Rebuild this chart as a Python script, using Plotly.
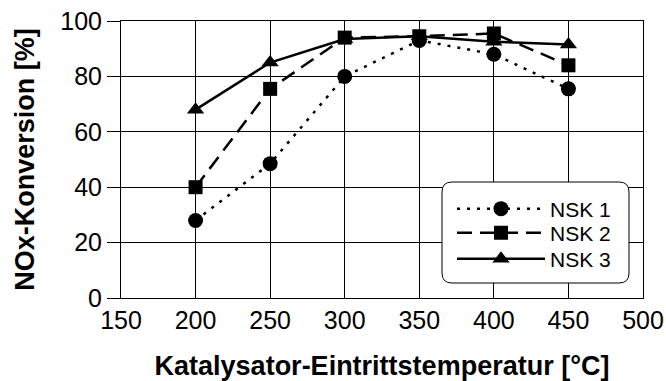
import plotly.graph_objects as go

temps = [200, 250, 300, 350, 400, 450]
nsk1 = [28, 48.5, 80, 93, 88, 75.5]
nsk2 = [40, 75.5, 94, 94.5, 95.5, 84]
nsk3 = [68, 85, 93.5, 94.5, 92.5, 91.5]
names = ["NSK 1", "NSK 2", "NSK 3"]
x_ticks = [150, 200, 250, 300, 350, 400, 450, 500]
y_ticks = [0, 20, 40, 60, 80, 100]

W, H = 666, 381
ml, mr, mt, mb = 121, 23, 21, 83
FONT = "Liberation Sans, Arial, sans-serif"

pw = W - ml - mr
ph = H - mt - mb
def px(x): return (x - ml) / pw
def py(y): return (H - mb - y) / ph

fig = go.Figure()
styles = [
    dict(dash="3px,7px", symbol="circle", size=15),
    dict(dash="15px,8px", symbol="square", size=14),
    dict(dash="solid", symbol="triangle-up", size=15),
]
legend_ids = ["legend", "legend2", "legend3"]
legend_rows = [209, 233, 259]
for name, ys, st, lid in zip(names, [nsk1, nsk2, nsk3], styles, legend_ids):
    fig.add_trace(go.Scatter(
        x=temps, y=ys, name=name, mode="lines+markers",
        line=dict(color="black", width=2.5, dash=st["dash"]),
        marker=dict(symbol=st["symbol"], size=st["size"], color="black"),
        cliponaxis=False, legend=lid,
    ))

# rounded legend box
x0, x1, y0, y1, r = 442, 629, 182, 283, 10
path = (f"M {px(x0+r)},{py(y0)} L {px(x1-r)},{py(y0)} "
        f"Q {px(x1)},{py(y0)} {px(x1)},{py(y0+r)} L {px(x1)},{py(y1-r)} "
        f"Q {px(x1)},{py(y1)} {px(x1-r)},{py(y1)} L {px(x0+r)},{py(y1)} "
        f"Q {px(x0)},{py(y1)} {px(x0)},{py(y1-r)} L {px(x0)},{py(y0+r)} "
        f"Q {px(x0)},{py(y0)} {px(x0+r)},{py(y0)} Z")
fig.add_shape(type="path", path=path, xref="paper", yref="paper",
              line=dict(color="black", width=1), fillcolor="white", layer="above")

legend_common = dict(
    xanchor="left", yanchor="middle",
    bgcolor="rgba(0,0,0,0)", borderwidth=0,
    font=dict(size=21, family=FONT),
    itemwidth=88, tracegroupgap=0,
)
layout_legends = {}
for lid, row in zip(legend_ids, legend_rows):
    layout_legends[lid] = dict(x=px(452), y=py(row), **legend_common)

fig.update_layout(
    width=W, height=H,
    margin=dict(l=ml, r=mr, t=mt, b=mb, pad=0, autoexpand=False),
    paper_bgcolor="white", plot_bgcolor="white",
    font=dict(family=FONT, color="black", size=25),
    showlegend=True,
    **layout_legends,
)
fig.update_xaxes(
    range=[150, 500], tickvals=x_ticks, ticktext=[str(v) for v in x_ticks],
    showgrid=True, gridcolor="black", gridwidth=1,
    showline=True, linecolor="black", linewidth=1, mirror=True,
    ticks="", zeroline=False, automargin=False,
    tickfont=dict(size=25),
    title=dict(text="<b>Katalysator-Eintrittstemperatur [°C]</b>",
               font=dict(size=27), standoff=28),
)
fig.update_yaxes(
    range=[0, 100], tickvals=y_ticks, ticktext=[str(v) for v in y_ticks],
    showgrid=True, gridcolor="black", gridwidth=1,
    showline=True, linecolor="black", linewidth=1, mirror=True,
    ticks="outside", ticklen=13, tickcolor="black", tickwidth=1,
    zeroline=False, automargin=False,
    tickfont=dict(size=25),
    title=dict(text="<b>NOx-Konversion [%]</b>", font=dict(size=27), standoff=17),
)

fig.write_html("out.html")
